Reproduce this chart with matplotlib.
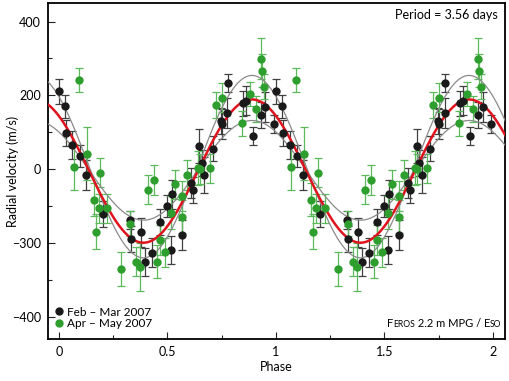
import numpy as np
import matplotlib
matplotlib.use("Agg")
import matplotlib.pyplot as plt
from matplotlib.lines import Line2D
from matplotlib.ticker import FixedLocator, FixedFormatter, MultipleLocator

plt.rcParams['font.family'] = ['Lato', 'DejaVu Sans']

# Feb - Mar 2007 (phase, radial velocity m/s, error)
feb_phase = [0.000, 0.030, 0.035, 0.063, 0.097, 0.127, 0.205, 0.328, 0.331, 0.380,
             0.397, 0.431, 0.466, 0.500, 0.518, 0.521, 0.567, 0.607, 0.618, 0.648,
             0.661, 0.671, 0.710, 0.745, 0.751, 0.777, 0.780, 0.849, 0.863, 0.894,
             0.932, 0.952, 0.993]
feb_rv = [211, 170, 98, 65, 35, -16, -122, -138, -190, -171,
          -251, -226, -142, -100, -218, -68, -178, -37, -57, 63,
          17, -16, 56, 131, 122, 152, 233, 178, 186, 89,
          146, 168, 122]
feb_err = [34, 30, 35, 38, 30, 40, 35, 25, 35, 40,
           38, 40, 35, 30, 38, 40, 40, 40, 35, 45,
           35, 48, 35, 35, 40, 40, 25, 35, 40, 24,
           35, 40, 25]

# Apr - May 2007
apr_phase = [0.069, 0.092, 0.130, 0.162, 0.170, 0.185, 0.192, 0.224, 0.288, 0.330,
             0.357, 0.372, 0.410, 0.438, 0.452, 0.464, 0.490, 0.515, 0.536, 0.568,
             0.568, 0.592, 0.641, 0.651, 0.695, 0.722, 0.751, 0.845, 0.881, 0.909,
             0.932, 0.936, 0.947]
apr_rv = [5, 241, 42, -83, -169, -106, -9, -106, -270, -147,
          -250, -264, -55, -29, -250, -192, -225, -118, -41, -73,
          -129, -15, 3, 0, 2, 174, 194, 124, 203, 162,
          299, 267, 224]
apr_err = [62, 32, 72, 45, 47, 40, 40, 40, 46, 35,
           40, 65, 40, 40, 45, 40, 40, 45, 40, 40,
           45, 40, 45, 40, 40, 36, 40, 34, 32, 35,
           55, 45, 35]

# orbit fit: amplitude, offset, phase of maximum
fit_K, fit_v0, fit_phmax = 194, -5, 0.89
upper_K, upper_v0 = 247, 7
lower_K, lower_v0 = 135, -3

ytick_pos = [-400, -200, 0, 200, 400]
ytick_lab = ['\u2212400', '\u2212300', '0', '200', '400']
xtick_pos = [0, 0.5, 1, 1.5, 2]
xtick_lab = ['0', '0.5', '1', '1.5', '2']

fig = plt.figure(figsize=(5.1, 3.81), dpi=100)
ax = fig.add_axes([0.094, 0.110, 0.896, 0.882])

def fold(ph, v, e):
    ph = np.asarray(ph)
    return (np.concatenate([ph, ph + 1]), np.concatenate([v, v]),
            np.concatenate([e, e]))

bx, by, be = fold(feb_phase, feb_rv, feb_err)
gx, gy, ge = fold(apr_phase, apr_rv, apr_err)

ax.errorbar(bx, by, yerr=be, fmt='none', ecolor='#404040', elinewidth=0.9,
            capsize=3, capthick=0.9, zorder=2)
ax.errorbar(gx, gy, yerr=ge, fmt='none', ecolor='#5cba5c', elinewidth=0.9,
            capsize=3, capthick=0.9, zorder=2)

ph = np.linspace(-0.06, 2.06, 500)
c = np.cos(2 * np.pi * (ph - fit_phmax))
ax.plot(ph, upper_v0 + upper_K * c, color='#8a8a8a', lw=0.9, zorder=3)
ax.plot(ph, lower_v0 + lower_K * c, color='#8a8a8a', lw=0.9, zorder=3)
ax.plot(ph, fit_v0 + fit_K * c, color='#e0141e', lw=1.8, zorder=3)

ax.plot(bx, by, 'o', color='#1a1a1a', ms=6, mec='none', zorder=4)
ax.plot(gx, gy, 'o', color='#2e9e2e', ms=6, mec='none', zorder=4)

ax.set_xlim(-0.05, 2.055)
ax.set_ylim(-460, 450)

ax.yaxis.set_major_locator(FixedLocator(ytick_pos))
ax.yaxis.set_major_formatter(FixedFormatter(ytick_lab))
ax.yaxis.set_minor_locator(FixedLocator([-300, -100, 100, 300]))
ax.xaxis.set_major_locator(FixedLocator(xtick_pos))
ax.xaxis.set_major_formatter(FixedFormatter(xtick_lab))
ax.xaxis.set_minor_locator(MultipleLocator(0.25))
ax.tick_params(which='both', direction='in', top=False, right=False,
               labelsize=9, width=0.8, color='#222222')
ax.tick_params(which='major', length=5, pad=5)
ax.tick_params(which='minor', length=3)
for s in ax.spines.values():
    s.set_linewidth(1.3)

ax.set_xlabel('Phase', fontsize=9, labelpad=2)
ax.set_ylabel('Radial velocity (m/s)', fontsize=9)
ax.yaxis.set_label_coords(-0.064, 0.5)

ax.text(0.985, 0.965, 'Period = 3.56 days', transform=ax.transAxes,
        ha='right', va='center', fontsize=9)

# FEROS / ESO in small caps
t = ax.text(0.741, 0.037, 'F', transform=ax.transAxes, fontsize=8,
            ha='left', va='baseline')
pieces = [('EROS', 6.2), (' 2.2 m MPG / ', 8), ('E', 8), ('SO', 6.2)]
for txt, fs in pieces:
    t = ax.annotate(txt, xy=(1, 0), xycoords=t, fontsize=fs,
                    ha='left', va='bottom')

handles = [Line2D([], [], ls='none', marker='o', color='#1a1a1a', ms=6, mec='none'),
           Line2D([], [], ls='none', marker='o', color='#2e9e2e', ms=6, mec='none')]
ax.legend(handles, ['Feb \u2013 Mar 2007', 'Apr \u2013 May 2007'],
          loc='lower left', bbox_to_anchor=(-0.005, 0.005), frameon=False,
          fontsize=8.5, handlelength=0.8, handletextpad=0.3, labelspacing=0.05,
          borderpad=0.2)

fig.savefig('out.png', dpi=100)
